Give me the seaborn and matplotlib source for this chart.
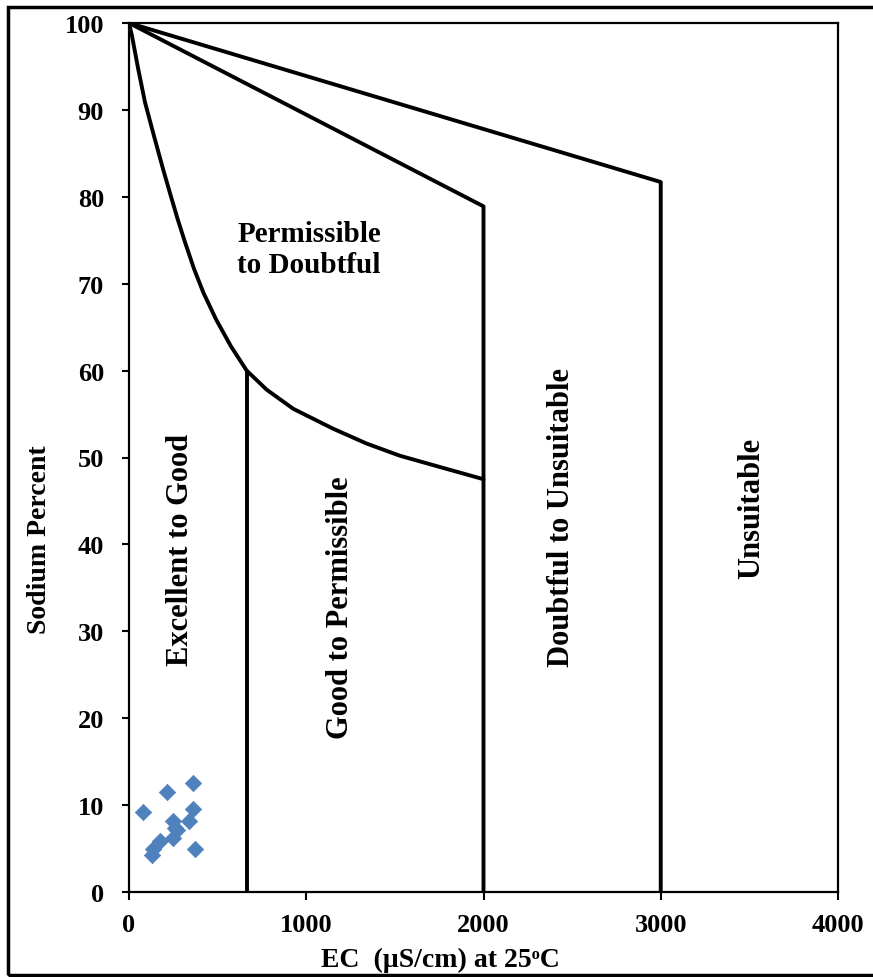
import matplotlib
matplotlib.use("Agg")
import matplotlib.pyplot as plt
import seaborn as sns
import pandas as pd
from matplotlib.patches import Rectangle

# sample points (EC, Na%)
ec = [360, 213, 77, 360, 336, 247, 270, 260, 247, 175, 138, 128, 373]
na = [12.6, 11.5, 9.2, 9.5, 8.2, 8.2, 7.1, 7.4, 6.2, 5.9, 5.0, 4.3, 5.0]

# Wilcox boundaries
curve_x = [0, 17, 52, 90, 141, 192, 233, 275, 314, 367, 419, 491, 575, 664,
           777, 927, 1153, 1341, 1529, 1755, 2000]
curve_y = [100, 98.5, 94.7, 90.9, 87.0, 83.2, 80.3, 77.4, 74.9, 71.7, 69.0, 65.9, 62.8, 60.0,
           57.8, 55.6, 53.3, 51.6, 50.2, 48.9, 47.5]
line2_x = [0, 2000, 2000]
line2_y = [100, 78.9, 0]
line3_x = [0, 3000, 3000]
line3_y = [100, 81.7, 0]
split_x = [664, 664]
split_y = [60.0, 0]

labels = ["Excellent to Good", "Good to Permissible", "Doubtful to Unsuitable", "Unsuitable"]
label_x = [289, 1194, 2439, 3514]
label_y = [39.5, 32.8, 43.2, 44.2]

sns.set_style("white")
plt.rcParams['font.family'] = ['Liberation Serif', 'DejaVu Serif']
plt.rcParams['font.weight'] = 'bold'
plt.rcParams['text.color'] = 'black'
plt.rcParams['axes.labelcolor'] = 'black'

fig = plt.figure(figsize=(8.73, 9.78), dpi=100)
ax = fig.add_axes([129 / 873, 1 - 893 / 978, 709 / 873, 869 / 978])

lw = 2.8
for xs, ys in [(curve_x, curve_y), (line2_x, line2_y), (line3_x, line3_y), (split_x, split_y)]:
    ax.plot(xs, ys, color='black', lw=lw, solid_joinstyle='round', zorder=2)

df = pd.DataFrame({'EC': ec, 'Na': na})
sns.scatterplot(data=df, x='EC', y='Na', marker='D', s=70, color='#4f81bd',
                edgecolor='#4f81bd', linewidth=0.5, ax=ax, zorder=3)

ax.text(611, 74, "Permissible\nto Doubtful", ha='left', va='center', fontsize=21,
        fontweight='bold', linespacing=1.15)
for t, x, y in zip(labels, label_x, label_y):
    ax.text(x, y, t, rotation=90, ha='center', va='center', fontsize=22, fontweight='bold')

ax.set_xlim(0, 4000)
ax.set_ylim(0, 100)
ax.set_xticks([0, 1000, 2000, 3000, 4000])
ax.set_yticks(range(0, 101, 10))
ax.tick_params(axis='x', direction='out', length=6, width=1.5, pad=9, labelsize=19, colors='black')
ax.tick_params(axis='y', direction='out', length=5, width=1.5, pad=13, labelsize=19, colors='black')
ax.tick_params(bottom=True, left=True)
for lab in ax.get_xticklabels() + ax.get_yticklabels():
    lab.set_fontweight('bold')
for sp in ax.spines.values():
    sp.set_color('black')
    sp.set_linewidth(1.6)

ax.set_xlabel("EC  (\u00b5S/cm) at 25\u1d52C", fontsize=20, fontweight='bold')
ax.set_ylabel("Sodium Percent", fontsize=20, fontweight='bold')
ax.xaxis.set_label_coords((440 - 129) / 709, -0.063)
ax.yaxis.set_label_coords(-0.108, (893 - 540) / 869)

fig.patches.append(Rectangle((8 / 873, 2 / 978), 1.1, 968 / 978, transform=fig.transFigure,
                             fill=False, edgecolor='black', lw=2.5))

fig.savefig("out.png", dpi=100)
